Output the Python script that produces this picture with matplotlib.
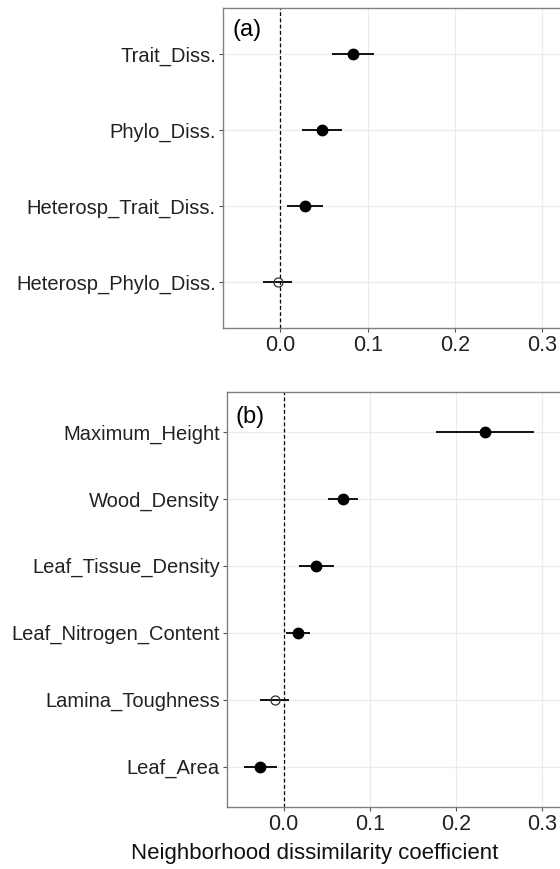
import numpy as np
import matplotlib
matplotlib.use('Agg')
import matplotlib.pyplot as plt

plt.rcParams['font.family'] = ['Liberation Sans', 'DejaVu Sans']

# 数据 (a)
labels_a = ['Trait_Diss.', 'Phylo_Diss.', 'Heterosp_Trait_Diss.', 'Heterosp_Phylo_Diss.']
est_a = [0.083, 0.048, 0.028, -0.003]
lo_a = [0.059, 0.025, 0.008, -0.020]
hi_a = [0.107, 0.070, 0.049, 0.013]
sig_a = [True, True, True, False]

# 数据 (b)
labels_b = ['Maximum_Height', 'Wood_Density', 'Leaf_Tissue_Density',
            'Leaf_Nitrogen_Content', 'Lamina_Toughness', 'Leaf_Area']
est_b = [0.234, 0.069, 0.038, 0.017, -0.010, -0.027]
lo_b = [0.177, 0.052, 0.018, 0.003, -0.027, -0.046]
hi_b = [0.291, 0.087, 0.059, 0.031, 0.006, -0.008]
sig_b = [True, True, True, True, False, True]

xticks = [0.0, 0.1, 0.2, 0.3]
xlim = (-0.066, 0.33)

fig = plt.figure(figsize=(5.6, 8.69), dpi=100)
ax_a = fig.add_axes([0.398, 0.6225, 0.617, 0.3682])
ax_b = fig.add_axes([0.4048, 0.0717, 0.609, 0.4776])


def draw_panel(ax, labels, est, lo, hi, sig, tag):
    n = len(labels)
    y = np.arange(n)[::-1] + 1
    ax.set_xlim(*xlim)
    ax.set_ylim(0.4, n + 0.6)
    ax.set_xticks(xticks)
    ax.set_xticklabels([f'{t:.1f}' for t in xticks], fontsize=15.5, color='#222222')
    ax.set_yticks(y)
    ax.set_yticklabels(labels, fontsize=14.5, color='#222222')
    ax.grid(True, color='#ebebeb', linewidth=0.9)
    ax.set_axisbelow(True)
    for s in ax.spines.values():
        s.set_color('#808080')
        s.set_linewidth(1.0)
    ax.tick_params(length=3, width=0.8, color='#555555', pad=2)
    ax.axvline(0, color='black', linestyle=(0, (3, 2)), linewidth=0.9, zorder=2)
    ax.hlines(y, lo, hi, color='black', linewidth=1.3, zorder=3)
    for yi, e, s in zip(y, est, sig):
        if s:
            ax.plot(e, yi, 'o', color='black', markersize=7.5, zorder=4)
        else:
            ax.plot(e, yi, 'o', markerfacecolor='none', markeredgecolor='#333333',
                    markeredgewidth=0.9, markersize=6.5, zorder=4)
    ax.text(0.027, 0.965, tag, transform=ax.transAxes, fontsize=17,
            ha='left', va='top')


draw_panel(ax_a, labels_a, est_a, lo_a, hi_a, sig_a, '(a)')
draw_panel(ax_b, labels_b, est_b, lo_b, hi_b, sig_b, '(b)')

# x轴标题（原图中位置偏左）
fig.text(314.5 / 560, 1 - 853 / 869, 'Neighborhood dissimilarity coefficient',
         fontsize=16, ha='center', va='center', color='#111111')

fig.savefig('out.png', dpi=100)
